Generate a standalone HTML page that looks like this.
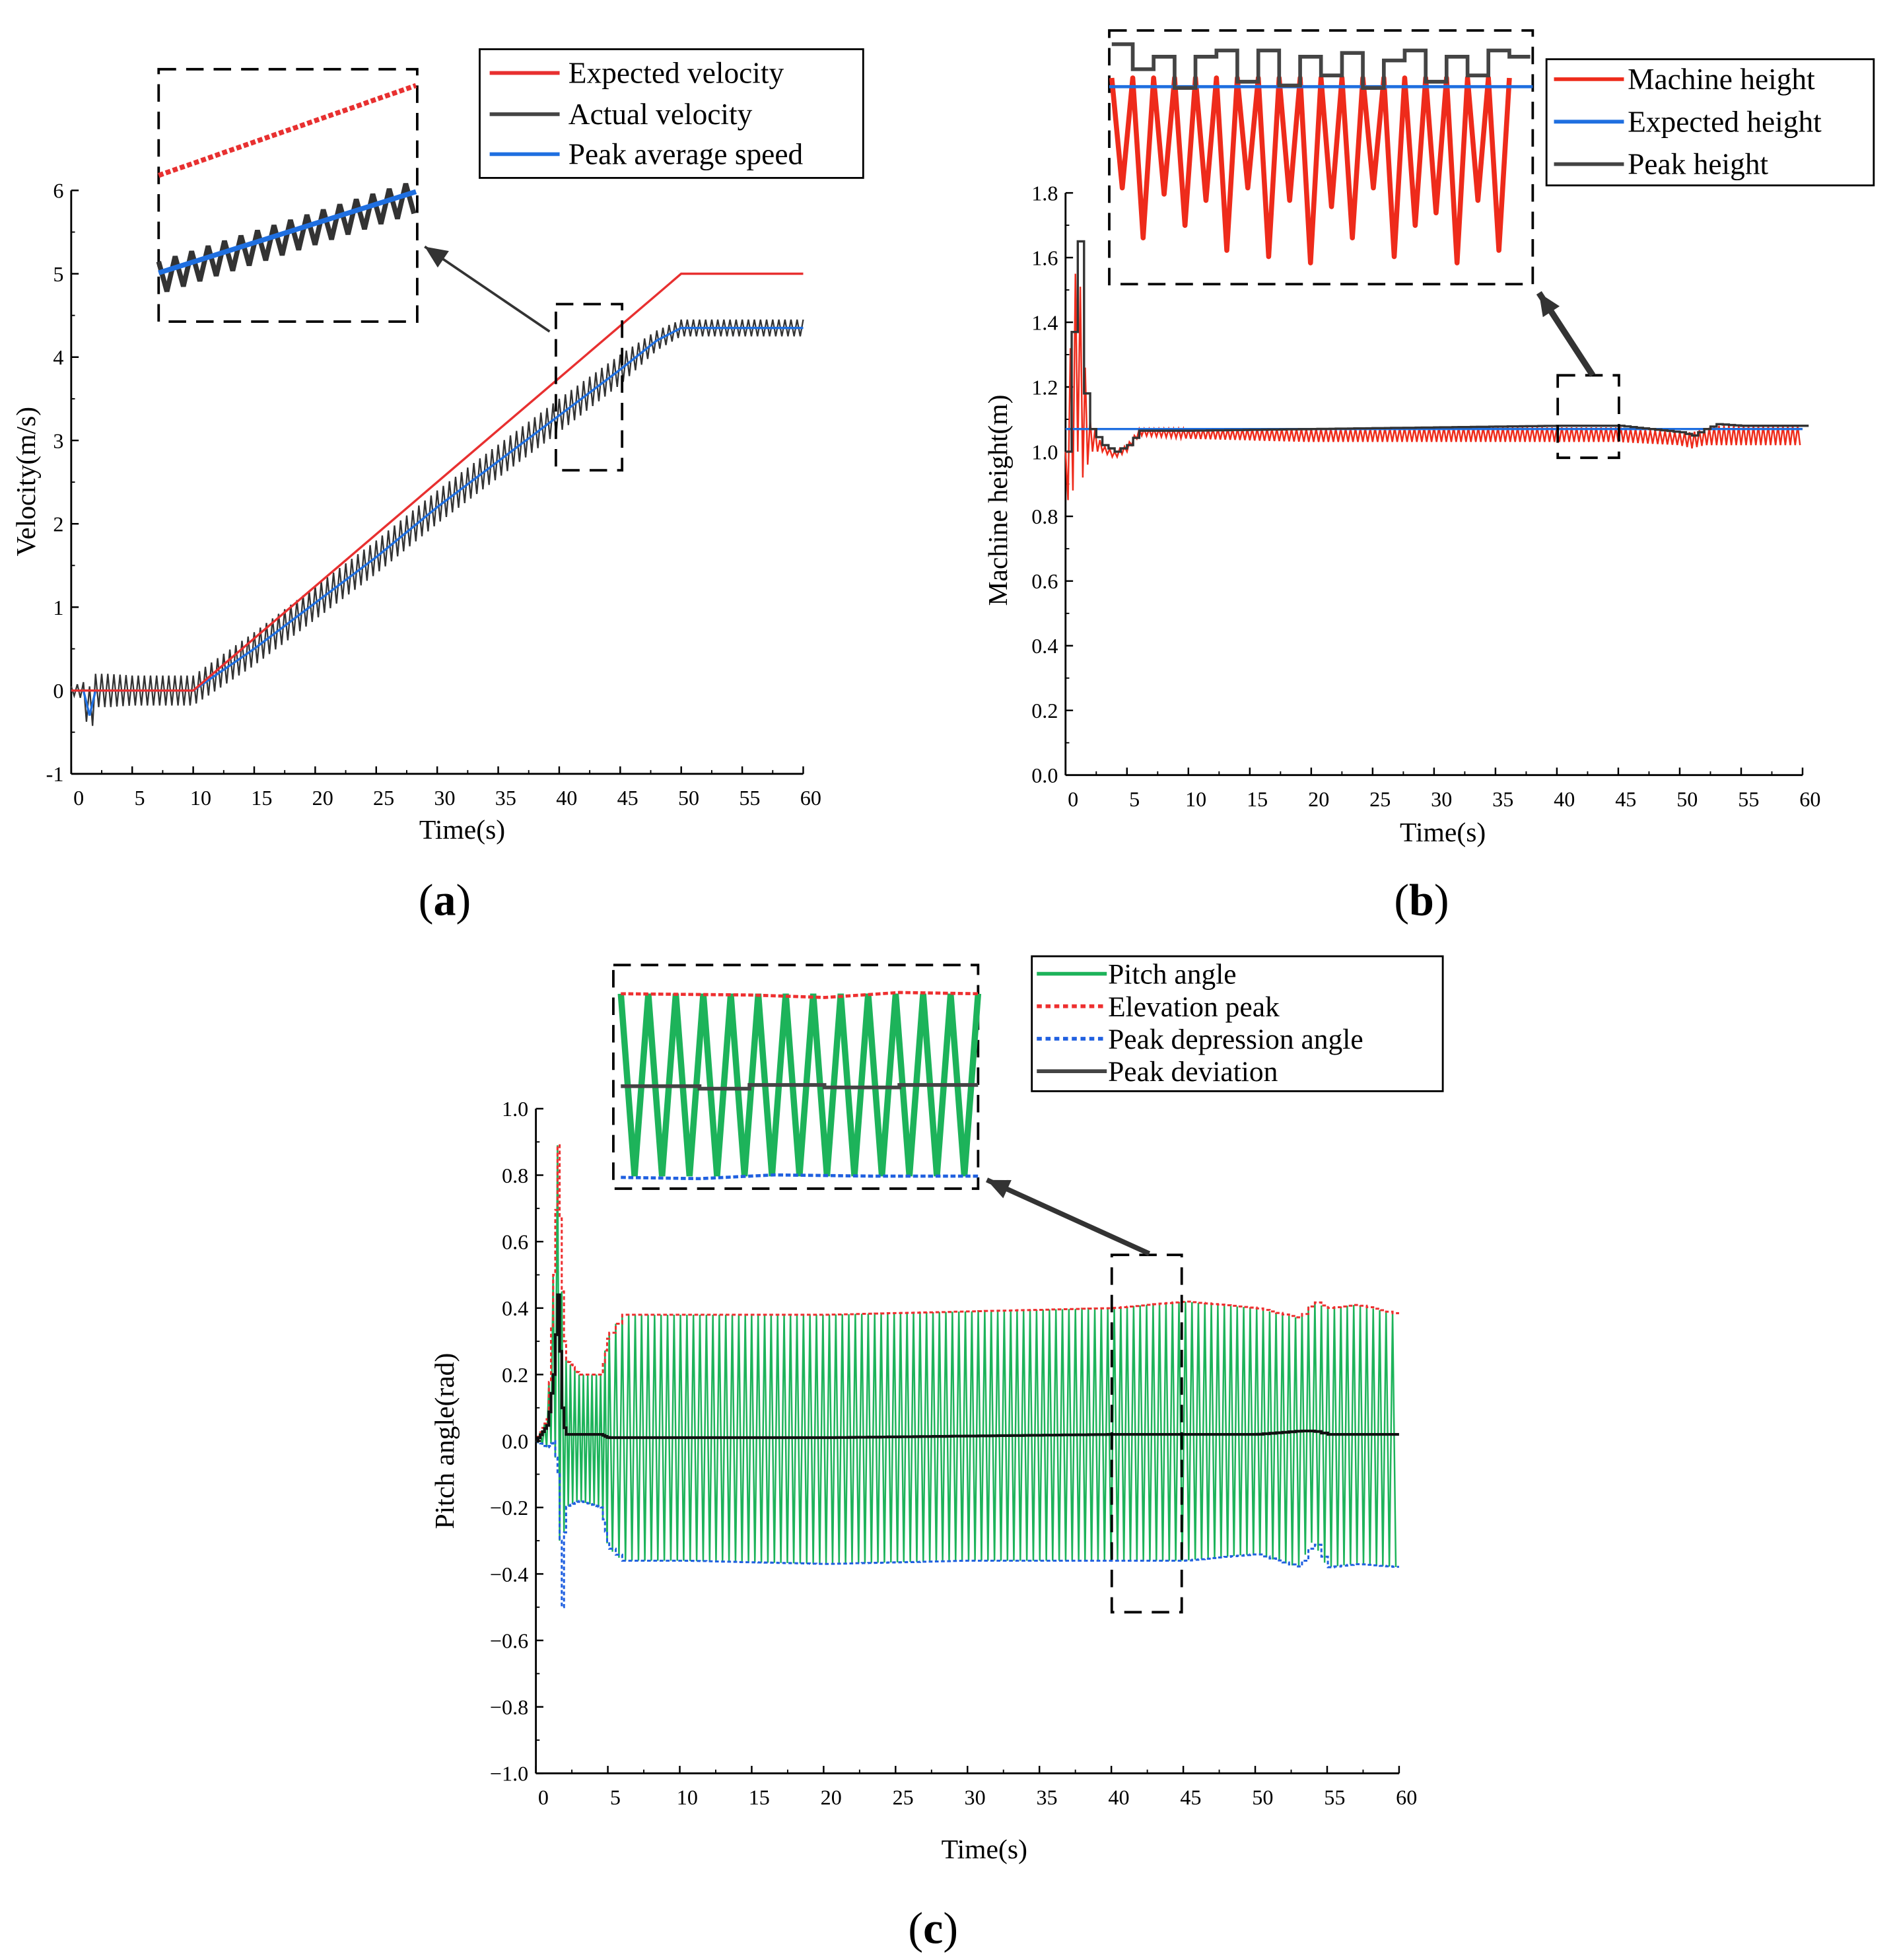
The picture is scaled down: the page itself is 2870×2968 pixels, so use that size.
<!DOCTYPE html>
<html><head><meta charset="utf-8"><style>
html,body{margin:0;padding:0;background:#fff;}
svg{display:block;font-family:"Liberation Serif",serif;}
</style></head><body>
<svg id="fig" width="2870" height="2968" viewBox="0 0 1517 1568" xmlns="http://www.w3.org/2000/svg">
<rect width="1517" height="1568" fill="#fff"/>
<g id="pa"></g>
<g id="pb"></g>
<g id="pc"></g>
<text x="356" y="732" font-size="36" text-anchor="middle">(<tspan font-weight="bold">a</tspan>)</text>
<text x="1138" y="732" font-size="36" text-anchor="middle">(<tspan font-weight="bold">b</tspan>)</text>
<text x="747" y="1555" font-size="36" text-anchor="middle">(<tspan font-weight="bold">c</tspan>)</text>
</svg>
<script>
// ---- Panel a data ----
const aTimes=[0,1,1.5,2,3,5,8,10,15,20,25,30,35,40,45,48,50,52,55,58,60];
const aExpected=[0,0,0,0,0,0,0,0,0.625,1.25,1.875,2.5,3.125,3.75,4.375,4.75,5,5,5,5,5];
const aActualMean=[0,0,-0.3,0,0,0,0,0,0.5,1.05,1.6,2.2,2.75,3.3,3.85,4.2,4.35,4.35,4.35,4.35,4.35];
const aActualAmp=[0.05,0.1,0.35,0.2,0.2,0.18,0.18,0.18,0.2,0.2,0.2,0.2,0.2,0.2,0.18,0.12,0.1,0.1,0.1,0.1,0.1];
const aYTicks=[-1,0,1,2,3,4,5,6];
const aXTicks=[0,5,10,15,20,25,30,35,40,45,50,55,60];
// ---- Panel b data ----
const bTimes=[0,0.5,1,1.5,2,3,4,5,6,10,20,30,40,45,50,51,52,53,55,60];
const bMachineTop=[1.0,1.4,1.65,1.3,1.1,1.02,1.0,1.02,1.07,1.07,1.07,1.075,1.075,1.075,1.06,1.06,1.07,1.08,1.08,1.08];
const bMachineBot=[0.85,0.85,1.0,0.9,1.0,1.0,0.98,1.0,1.05,1.04,1.03,1.03,1.03,1.03,1.02,1.01,1.02,1.02,1.02,1.02];
const bExpected=1.07;
const bPeak=[1.0,1.37,1.65,1.18,1.07,1.02,1.0,1.02,1.065,1.065,1.07,1.075,1.08,1.08,1.06,1.05,1.07,1.085,1.08,1.08];
const bYTicks=[0,0.2,0.4,0.6,0.8,1.0,1.2,1.4,1.6,1.8];
const bXTicks=[0,5,10,15,20,25,30,35,40,45,50,55,60];
// ---- Panel c data ----
const cTimes=[0,0.8,1.2,1.5,1.8,2,3,4.5,5,6,10,20,30,40,45,50,53,54,55,57,60];
const cElev=[0,0.07,0.5,0.89,0.45,0.25,0.2,0.2,0.32,0.38,0.38,0.38,0.39,0.4,0.42,0.4,0.37,0.42,0.4,0.41,0.38];
const cDep=[0,-0.02,0.0,-0.1,-0.5,-0.2,-0.18,-0.2,-0.32,-0.36,-0.36,-0.37,-0.36,-0.36,-0.36,-0.34,-0.38,-0.3,-0.38,-0.37,-0.38];
const cDev=[0,0.05,0.2,0.44,0.1,0.02,0.02,0.02,0.01,0.01,0.01,0.01,0.015,0.02,0.02,0.02,0.03,0.03,0.02,0.02,0.02];
const cYTicks=[-1.0,-0.8,-0.6,-0.4,-0.2,0.0,0.2,0.4,0.6,0.8,1.0];
const cXTicks=[0,5,10,15,20,25,30,35,40,45,50,55,60];

const NS="http://www.w3.org/2000/svg";
function mk(parent,tag,attrs,name){const e=document.createElementNS(NS,tag);for(const k in attrs)e.setAttribute(k,attrs[k]);


parent.appendChild(e);return e;}
function interp(ts,vs,t){if(t<=ts[0])return vs[0];for(let i=1;i<ts.length;i++){if(t<=ts[i]){const f=(t-ts[i-1])/(ts[i]-ts[i-1]);return vs[i-1]+f*(vs[i]-vs[i-1]);}}return vs[vs.length-1];}
function lin(d0,d1,p0,p1){return v=>p0+(v-d0)/(d1-d0)*(p1-p0);}
function lineD(pts){return pts.map((p,i)=>(i?'L':'M')+p[0].toFixed(1)+' '+p[1].toFixed(1)).join(' ');}
function axes(g,x,y,x0,x1,y0,y1,xt,yt,fmt,pfx){
  mk(g,'line',{x1:x0,y1:y0,x2:x0,y2:y1,stroke:'#000','stroke-width':1.5},pfx+'-y-axis');
  mk(g,'line',{x1:x0,y1:y0,x2:x1,y2:y0,stroke:'#000','stroke-width':1.5},pfx+'-x-axis');
  yt.forEach(v=>{mk(g,'line',{x1:x0,y1:y(v),x2:x0+6,y2:y(v),stroke:'#000','stroke-width':1.3},pfx+'-y-tick');
    const t=mk(g,'text',{x:x0-6,y:y(v)+6,'font-size':17,'text-anchor':'end'},pfx+'-y-tick-label');t.textContent=fmt(v);});
  for(let i=0;i<yt.length-1;i++){const m=(yt[i]+yt[i+1])/2;mk(g,'line',{x1:x0,y1:y(m),x2:x0+3,y2:y(m),stroke:'#000','stroke-width':1},pfx+'-y-minor-tick');}
  xt.forEach(v=>{mk(g,'line',{x1:x(v),y1:y0,x2:x(v),y2:y0-6,stroke:'#000','stroke-width':1.3},pfx+'-x-tick');
    const t=mk(g,'text',{x:x(v)+6,y:y0+25,'font-size':17,'text-anchor':'middle'},pfx+'-x-tick-label');t.textContent=v;});
  for(let i=0;i<xt.length-1;i++){const m=(xt[i]+xt[i+1])/2;mk(g,'line',{x1:x(m),y1:y0,x2:x(m),y2:y0-3,stroke:'#000','stroke-width':1},pfx+'-x-minor-tick');}
}
function osc(ts,top,bot,x,y,t0,t1,per,isAmp,early){const pts=[];let k=0;let t=t0;while(t<=t1){let a,b;if(isAmp){const m=interp(ts,top,t),am=interp(ts,bot,t);a=m+am;b=m-am;}else{a=interp(ts,top,t);b=interp(ts,bot,t);}pts.push([x(t),y(k%2?b:a)]);k++;t+=(early&&t<5)?0.15:per/2;}return pts;}
function legend(g,bx,by,bw,bh,items,lx,tx,fs,pfx){
  mk(g,'rect',{x:bx,y:by,width:bw,height:bh,fill:'#fff',stroke:'#000','stroke-width':1.5},pfx+'-legend-box');
  items.forEach(it=>{mk(g,'line',{x1:lx,y1:it.y,x2:lx+56,y2:it.y,stroke:it.c,'stroke-width':3,'stroke-dasharray':it.d||'none'},pfx+'-legend-swatch');
    const t=mk(g,'text',{x:tx,y:it.y+8,'font-size':fs},pfx+'-legend-entry');t.textContent=it.t;});
}
function dashBox(g,x0,y0,x1,y1,name){mk(g,'rect',{x:x0,y:y0,width:x1-x0,height:y1-y0,fill:'none',stroke:'#000','stroke-width':2,'stroke-dasharray':'14 8'},name);}
function arrow(g,x0,y0,x1,y1,w,name){mk(g,'line',{x1:x0,y1:y0,x2:x1,y2:y1,stroke:'#333','stroke-width':w},name);
  const a=Math.atan2(y1-y0,x1-x0),L=18,W=8;const p=[[x1,y1],[x1-L*Math.cos(a)+W*Math.sin(a),y1-L*Math.sin(a)-W*Math.cos(a)],[x1-L*Math.cos(a)-W*Math.sin(a),y1-L*Math.sin(a)+W*Math.cos(a)]];
  mk(g,'polygon',{points:p.map(q=>q.join(',')).join(' '),fill:'#333'},name+'-head');}

// ===== Panel a =====
(function(){const g=document.getElementById('pa');
const x=lin(0,60,57,643),y=lin(-1,6,619,152);
axes(g,x,y,57,643,619,152,aXTicks,aYTicks,v=>v,'a');
mk(g,'path',{d:lineD(osc(aTimes,aActualMean,aActualAmp,x,y,0,60,0.5,true,false)),fill:'none',stroke:'#333','stroke-width':1.2},'actual-velocity-line');
mk(g,'path',{d:lineD(aTimes.map((t,i)=>[x(t),y(aActualMean[i])])),fill:'none',stroke:'#1f6fe0','stroke-width':1.8},'peak-average-speed-line');
mk(g,'path',{d:lineD(aTimes.map((t,i)=>[x(t),y(aExpected[i])])),fill:'none',stroke:'#e83030','stroke-width':1.8},'expected-velocity-line');
const t1=mk(g,'text',{x:0,y:0,'font-size':22,'text-anchor':'middle',transform:'translate(28,385) rotate(-90)'},'a-y-axis-title');t1.textContent='Velocity(m/s)';
const t2=mk(g,'text',{x:370,y:671,'font-size':22,'text-anchor':'middle'},'a-x-axis-title');t2.textContent='Time(s)';
dashBox(g,445,243,498,376,'a-zoom-region');dashBox(g,127,55,334,257,'a-inset-box');
arrow(g,440,265,340,197,2,'a-zoom-arrow');
const ix=lin(40,45,127,333);const ey=t=>140+(t-40)/5*(68-140);
const rp=[];for(let t=40;t<=45.001;t+=0.2)rp.push([ix(t),ey(t)]);
mk(g,'path',{d:lineD(rp),fill:'none',stroke:'#e83030','stroke-width':4,'stroke-dasharray':'4 2'},'a-inset-expected');
const gp=[];let k=0;for(let t=40;t<=45.001;t+=0.16){const m=223+(t-40)/5*(158-223);gp.push([ix(t),m+(k%2?12:-14)]);k++;}
mk(g,'path',{d:lineD(gp),fill:'none',stroke:'#333','stroke-width':4},'a-inset-actual');
mk(g,'line',{x1:127,y1:218,x2:333,y2:153,stroke:'#1f6fe0','stroke-width':4},'a-inset-peak-average');
legend(g,384,39,307,103,[{y:58,c:'#e83030',t:'Expected velocity'},{y:91,c:'#444',t:'Actual velocity'},{y:123,c:'#1f6fe0',t:'Peak average speed'}],392,455,24,'a');
})();

// ===== Panel b =====
(function(){const g=document.getElementById('pb');
const x=lin(0,60,853,1443),y=lin(0,1.8,620,154);
axes(g,x,y,853,1443,620,154,bXTicks,bYTicks,v=>v.toFixed(1),'b');
mk(g,'path',{d:lineD(osc(bTimes,bMachineTop,bMachineBot,x,y,0,60,0.4,false,false)),fill:'none',stroke:'#ee2b1b','stroke-width':1.3},'machine-height-line');
mk(g,'line',{x1:x(0),y1:y(bExpected),x2:x(60),y2:y(bExpected),stroke:'#1f6fe0','stroke-width':1.8},'expected-height-line');
const sp=[];for(let t=0;t<=60;t+=0.5){const v=interp(bTimes,bPeak,t);sp.push([x(t),y(v)]);sp.push([x(t+0.5),y(v)]);}
mk(g,'path',{d:lineD(sp),fill:'none',stroke:'#333','stroke-width':1.8},'peak-height-line');
const t1=mk(g,'text',{x:0,y:0,'font-size':22,'text-anchor':'middle',transform:'translate(806,400) rotate(-90)'},'b-y-axis-title');t1.textContent='Machine height(m)';
const t2=mk(g,'text',{x:1155,y:673,'font-size':22,'text-anchor':'middle'},'b-x-axis-title');t2.textContent='Time(s)';
dashBox(g,1247,300,1296,366,'b-zoom-region');dashBox(g,888,24,1227,227,'b-inset-box');
arrow(g,1275,300,1232,234,5,'b-zoom-arrow');
const ix=lin(0,20,890,1225);const dips=[150,190,155,180,160,200,150,205,160,210,165,190,150,205,180,170,210,160,200];
const rp=[];for(let i=0;i<dips.length;i++){rp.push([ix(i),62]);rp.push([ix(i+0.5),dips[i]]);}rp.push([ix(dips.length),62]);
mk(g,'path',{d:lineD(rp),fill:'none',stroke:'#ee2b1b','stroke-width':4,'stroke-linejoin':'round'},'b-inset-machine');
mk(g,'line',{x1:888,y1:69,x2:1227,y2:69,stroke:'#1f6fe0','stroke-width':2.5},'b-inset-expected');
const pk=[35,55,45,70,45,40,65,40,68,45,60,42,70,48,40,65,45,60,40,45];
const pp=[];pk.forEach((v,i)=>{pp.push([ix(i),v]);pp.push([ix(i+1),v]);});
mk(g,'path',{d:lineD(pp),fill:'none',stroke:'#444','stroke-width':3},'b-inset-peak');
legend(g,1238,47,262,101,[{y:63,c:'#ee2b1b',t:'Machine height'},{y:97,c:'#1f6fe0',t:'Expected height'},{y:131,c:'#444',t:'Peak height'}],1244,1303,24,'b');
})();

// ===== Panel c =====
(function(){const g=document.getElementById('pc');
const x=lin(0,60,429,1120),y=lin(-1,1,1419,887);
axes(g,x,y,429,1120,1419,887,cXTicks,cYTicks,v=>(v<0?'\u2212':'')+Math.abs(v).toFixed(1),'c');
mk(g,'path',{d:lineD(osc(cTimes,cElev,cDep,x,y,0,60,0.45,false,true)),fill:'none',stroke:'#1db35a','stroke-width':1.3},'pitch-angle-line');
const st=(arr)=>{const p=[];let t=0;while(t<=60){const dt=t<5?0.15:0.45;const v=interp(cTimes,arr,t);p.push([x(t),y(v)]);p.push([x(t+dt),y(v)]);t+=dt;}return p;};
mk(g,'path',{d:lineD(st(cElev)),fill:'none',stroke:'#ee3030','stroke-width':1.6,'stroke-dasharray':'3 2'},'elevation-peak-line');
mk(g,'path',{d:lineD(st(cDep)),fill:'none',stroke:'#2060e0','stroke-width':1.6,'stroke-dasharray':'3 2'},'peak-depression-line');
mk(g,'path',{d:lineD(st(cDev)),fill:'none',stroke:'#111','stroke-width':2.2},'peak-deviation-line');
const t1=mk(g,'text',{x:0,y:0,'font-size':22,'text-anchor':'middle',transform:'translate(363,1153) rotate(-90)'},'c-y-axis-title');t1.textContent='Pitch angle(rad)';
const t2=mk(g,'text',{x:788,y:1487,'font-size':22,'text-anchor':'middle'},'c-x-axis-title');t2.textContent='Time(s)';
dashBox(g,890,1004,946,1290,'c-zoom-region');dashBox(g,491,772,783,951,'c-inset-box');
arrow(g,920,1003,790,944,4,'c-zoom-arrow');
const ix=lin(0,13,497,783);const gp=[];for(let i=0;i<13;i++){gp.push([ix(i),795]);gp.push([ix(i+0.5),941]);}gp.push([ix(13),795]);
mk(g,'path',{d:lineD(gp),fill:'none',stroke:'#1db35a','stroke-width':5},'c-inset-pitch');
mk(g,'path',{d:'M497 795 L600 796 L660 798 L720 794 L783 795',fill:'none',stroke:'#ee3030','stroke-width':2.5,'stroke-dasharray':'4 2'},'c-inset-elevation');
mk(g,'path',{d:'M497 942 L560 943 L620 940 L700 941 L783 941',fill:'none',stroke:'#2060e0','stroke-width':2.5,'stroke-dasharray':'4 2'},'c-inset-depression');
mk(g,'path',{d:'M497 869 L560 869 L560 871 L600 871 L600 868 L660 868 L660 870 L720 870 L720 868 L783 868',fill:'none',stroke:'#444','stroke-width':3},'c-inset-deviation');
legend(g,826,765,329,108,[{y:779,c:'#1db35a',t:'Pitch angle'},{y:805,c:'#ee3030',t:'Elevation peak',d:'4 3'},{y:831,c:'#2060e0',t:'Peak depression angle',d:'4 3'},{y:857,c:'#444',t:'Peak deviation'}],830,887,23,'c');
})();
</script>
</body></html>
